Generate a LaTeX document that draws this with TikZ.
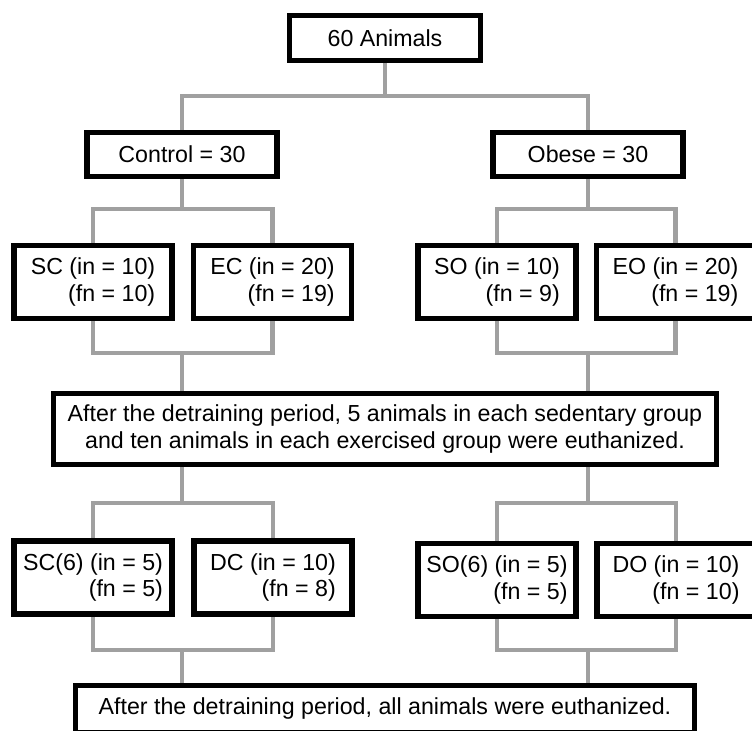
\documentclass[tikz,border=0pt]{standalone}
\usepackage{fontspec}
\setmainfont{Liberation Sans}
\usetikzlibrary{backgrounds}
\definecolor{linkgray}{RGB}{160,160,160}
\begin{document}
\begin{tikzpicture}[x=0.5pt,y=-0.5pt,
  box/.style={draw=black,line width=2.6pt,fill=white,inner sep=0pt,
    font=\fontsize{11.6}{13.2}\selectfont},
  group/.style={box,align=right,minimum width=79pt,minimum height=36.5pt},
  note/.style={box,align=center},
  link/.style={draw=linkgray,line width=2.4pt}]
\useasboundingbox (0,0) rectangle (752,731);
\clip (0,0) rectangle (752,731);

% boxes, centres in pixels
\node[box,minimum width=95.5pt,minimum height=22.5pt] (animals) at (385,38) {60 Animals};
\node[box,minimum width=95pt,minimum height=22pt] (ctrl) at (182,154.5) {Control = 30};
\node[box,minimum width=95pt,minimum height=22pt] (obese) at (588,154.5) {Obese = 30};

\node[group] (sc) at (93,282) {SC (in = 10)\\(fn = 10)};
\node[group] (ec) at (272.5,282) {EC (in = 20)\\(fn = 19)};
\node[group] (so) at (497,282) {SO (in = 10)\\(fn = 9)};
\node[group] (eo) at (675.5,282) {EO (in = 20)\\(fn = 19)};

\node[note,minimum width=331.5pt,minimum height=35.5pt] (note1) at (385,429)
  {After the detraining period, 5 animals in each sedentary group\\and ten animals in each exercised group were euthanized.};

\node[group] (sc6) at (93,577.5) {SC(6) (in = 5)\\(fn = 5)};
\node[group] (dc) at (273,577.5) {DC (in = 10)\\(fn = 8)};
\node[group] (so6) at (497,580) {SO(6) (in = 5)\\(fn = 5)};
\node[group] (dgo) at (676,580) {DO (in = 10)\\(fn = 10)};

\node[note,minimum width=309.5pt,minimum height=23.5pt] (note2) at (385,709)
  {After the detraining period, all animals were euthanized.};

% junctions
\coordinate (j0) at (385,96);
\coordinate (jc) at (182,209);
\coordinate (jo) at (588,209);
\coordinate (jd) at (182,353);
\coordinate (je) at (588,353);
\coordinate (jf) at (182,503);
\coordinate (jg) at (588,503);
\coordinate (jh) at (182,650);
\coordinate (ji) at (588,650);

% grey connectors
\begin{scope}[on background layer]
\draw[link] (animals.south) -- (j0);
\draw[link] (ctrl.north) |- (j0) -| (obese.north);
\draw[link] (ctrl.south) -- (jc);
\draw[link] (obese.south) -- (jo);
\draw[link] (sc.north) |- (jc) -| (ec.north);
\draw[link] (so.north) |- (jo) -| (eo.north);
\draw[link] (sc.south) |- (jd) -| (ec.south);
\draw[link] (so.south) |- (je) -| (eo.south);
\draw[link] (jd) -- (jd |- note1.north);
\draw[link] (je) -- (je |- note1.north);
\draw[link] (jf |- note1.south) -- (jf);
\draw[link] (jg |- note1.south) -- (jg);
\draw[link] (sc6.north) |- (jf) -| (dc.north);
\draw[link] (so6.north) |- (jg) -| (dgo.north);
\draw[link] (sc6.south) |- (jh) -| (dc.south);
\draw[link] (so6.south) |- (ji) -| (dgo.south);
\draw[link] (jh) -- (jh |- note2.north);
\draw[link] (ji) -- (ji |- note2.north);
\end{scope}
\end{tikzpicture}
\end{document}
